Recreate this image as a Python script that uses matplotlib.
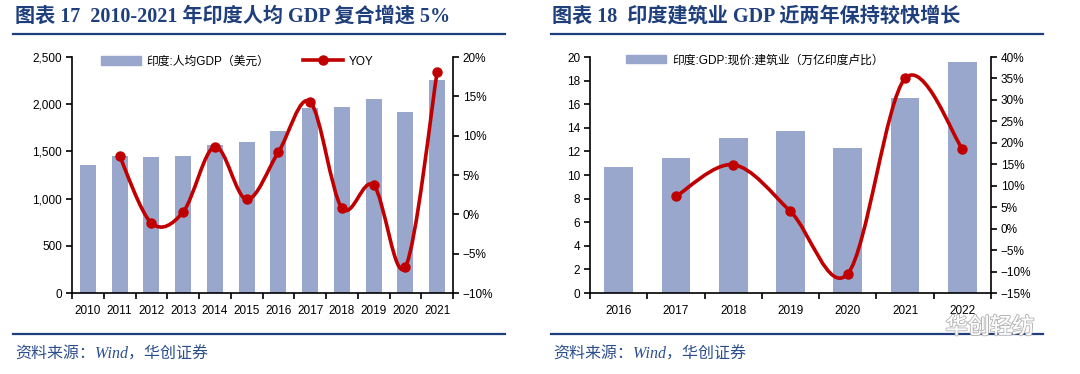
import numpy as np
import matplotlib
matplotlib.use("Agg")
import matplotlib.pyplot as plt
from matplotlib.path import Path
from matplotlib.patches import PathPatch
from matplotlib.lines import Line2D
import matplotlib.patheffects as pe

plt.rcParams["font.family"] = ["Liberation Sans", "Noto Sans CJK SC"]
plt.rcParams["axes.unicode_minus"] = True

# --- data: chart 17 ---
years_17 = ["2010", "2011", "2012", "2013", "2014", "2015",
            "2016", "2017", "2018", "2019", "2020", "2021"]
gdp_pc = [1356, 1455, 1441, 1448, 1564, 1596, 1716, 1965, 1974, 2052, 1914, 2256]
yoy_17 = [None, 7.4, -1.1, 0.3, 8.6, 1.9, 7.9, 14.3, 0.8, 3.7, -6.7, 18.1]

# --- data: chart 18 ---
years_18 = ["2016", "2017", "2018", "2019", "2020", "2021", "2022"]
constr_gdp = [10.7, 11.45, 13.1, 13.7, 12.3, 16.5, 19.6]
yoy_18 = [None, 7.5, 14.9, 4.0, -10.5, 35.0, 18.6]

BAR_C = "#9aa7cc"
LINE_C = "#c00000"
NAVY = "#1f3f7c"
SRC_C = "#2c4f8c"
TITLE_FONT = ["Liberation Serif", "Noto Sans CJK SC"]


def smooth_path(xs, ys):
    """Catmull-Rom style bezier path through the points (like Excel smoothing)."""
    pts = np.column_stack([xs, ys]).astype(float)
    verts = [pts[0]]
    codes = [Path.MOVETO]
    n = len(pts)
    for i in range(n - 1):
        p0 = pts[i - 1] if i > 0 else pts[i]
        p1 = pts[i]
        p2 = pts[i + 1]
        p3 = pts[i + 2] if i + 2 < n else pts[i + 1]
        c1 = p1 + (p2 - p0) / 6.0
        c2 = p2 - (p3 - p1) / 6.0
        verts += [c1, c2, p2]
        codes += [Path.CURVE4] * 3
    return Path(verts, codes)


def draw_panel(fig, rect, cats, bars, yoy, ylim, yticks, ylab_fmt, y2lim, y2ticks):
    ax = fig.add_axes(rect)
    x = np.arange(len(cats))
    ax.bar(x, bars, width=0.5, color=BAR_C, zorder=2)
    ax.set_xlim(-0.5, len(cats) - 0.5)
    ax.set_ylim(*ylim)
    ax.set_yticks(yticks)
    ax.set_yticklabels([ylab_fmt(v) for v in yticks])
    ax.set_xticks(x)
    ax.set_xticklabels(cats)
    ax.set_xticks(np.arange(len(cats) + 1) - 0.5, minor=True)
    ax.tick_params(axis="x", which="major", length=0, pad=9, labelsize=8.5)
    ax.tick_params(axis="x", which="minor", length=4, width=1.2, direction="out")
    ax.tick_params(axis="y", length=4, width=1.2, direction="out", labelsize=8.5, pad=3)
    ax.spines["top"].set_visible(False)
    ax.spines["right"].set_visible(False)
    for s in ("left", "bottom"):
        ax.spines[s].set_linewidth(1.2)

    ax2 = ax.twinx()
    ax2.set_ylim(*y2lim)
    ax2.set_yticks(y2ticks)
    ax2.set_yticklabels([f"{v}%".replace("-", "\u2212") for v in y2ticks])
    ax2.tick_params(axis="y", length=4, width=1.2, direction="out", labelsize=8.5, pad=3)
    ax2.spines["top"].set_visible(False)
    ax2.spines["left"].set_visible(False)
    ax2.spines["bottom"].set_visible(False)
    ax2.spines["right"].set_linewidth(1.2)

    xi = [i for i, v in enumerate(yoy) if v is not None]
    yi = [v for v in yoy if v is not None]
    ax2.add_patch(PathPatch(smooth_path(xi, yi), fill=False, edgecolor=LINE_C,
                            lw=2.6, capstyle="round", joinstyle="round", zorder=3))
    ax2.plot(xi, yi, "o", color=LINE_C, ms=6.5, zorder=4)
    return ax, ax2


fig = plt.figure(figsize=(10.8, 3.74), dpi=100)

# ---------------- panel 17 ----------------
axL, axL2 = draw_panel(
    fig, [72 / 1080, 81 / 374, 381 / 1080, 236 / 374],
    years_17, gdp_pc, yoy_17,
    (0, 2500), [0, 500, 1000, 1500, 2000, 2500], lambda v: f"{v:,}",
    (-10, 20), [-10, -5, 0, 5, 10, 15, 20])

h_bar = plt.Rectangle((0, 0), 1, 1, color=BAR_C)
h_line = Line2D([], [], color=LINE_C, lw=2.6, marker="o", ms=6.5)
axL2.legend([h_bar, h_line], ["印度:人均GDP（美元）", "YOY"], ncol=2,
            loc="lower left", bbox_to_anchor=(0.075, 0.955), frameon=False,
            fontsize=8.5, handlelength=3.4, handleheight=0.7, columnspacing=2.8,
            handletextpad=0.5, borderaxespad=0, borderpad=0)

# ---------------- panel 18 ----------------
axR, axR2 = draw_panel(
    fig, [590 / 1080, 81 / 374, 401 / 1080, 236 / 374],
    years_18, constr_gdp, yoy_18,
    (0, 20), list(range(0, 21, 2)), lambda v: f"{v}",
    (-15, 40), list(range(-15, 41, 5)))
axR2.legend([plt.Rectangle((0, 0), 1, 1, color=BAR_C)],
            ["印度:GDP:现价:建筑业（万亿印度卢比）"],
            loc="lower left", bbox_to_anchor=(0.09, 0.96), frameon=False,
            fontsize=8.5, handlelength=3.4, handleheight=0.7,
            handletextpad=0.5, borderaxespad=0, borderpad=0)

# ---------------- titles, rules, sources ----------------
fig.text(15 / 1080, 1 - 17 / 374, "图表 17  2010-2021 年印度人均 GDP 复合增速 5%",
         family=TITLE_FONT, fontsize=14.5, fontweight="bold", color=NAVY, va="center")
fig.text(552 / 1080, 1 - 17 / 374, "图表 18  印度建筑业 GDP 近两年保持较快增长",
         family=TITLE_FONT, fontsize=14.5, fontweight="bold", color=NAVY, va="center")

for x0, x1 in [(13, 505), (551, 1043)]:
    for yy in (34, 334):
        fig.add_artist(Line2D([x0 / 1080, x1 / 1080], [1 - yy / 374, 1 - yy / 374],
                              color=NAVY, lw=1.6))

for x0 in (15, 553):
    fig.text(x0 / 1080, 1 - 355 / 374, "资料来源：Wind，华创证券",
             family=TITLE_FONT, style="italic", fontsize=11.5, color=SRC_C, va="center")

wm = fig.text(990 / 1080, 1 - 327 / 374, "华创轻纺", family=["Noto Sans CJK SC"],
              fontsize=16, color="white", ha="center", va="center", alpha=0.9)
wm.set_path_effects([pe.withStroke(linewidth=1.5, foreground="#b0b0b0"), pe.Normal()])

fig.savefig("out.png", dpi=100)
